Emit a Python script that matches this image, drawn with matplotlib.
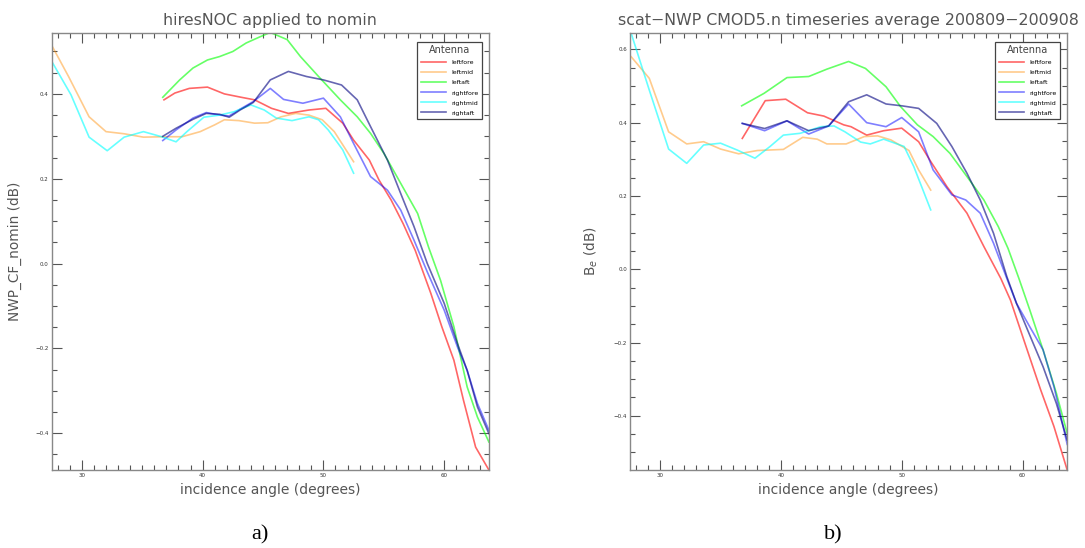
import matplotlib.pyplot as plt
from matplotlib.ticker import MultipleLocator

# antenna beams and their line colours
antennas = ['leftfore', 'leftmid', 'leftaft', 'rightfore', 'rightmid', 'rightaft']
colors = ['red', 'darkorange', 'lime', 'blue', 'cyan', 'navy']
alphas = [0.6, 0.45, 0.6, 0.5, 0.6, 0.6]

# a) hiresNOC applied to nomin: (incidence angle, NWP_CF_nomin)
a_leftfore_x = [36.8, 37.7, 38.9, 40.4, 41.8, 43.2, 44.3, 45.7, 47.1, 48.8, 50.2, 51.6, 52.5,
                53.8, 54.6, 55.6, 56.6, 57.6, 58.9, 59.8, 60.8, 61.6, 62.6, 63.7]
a_leftfore_y = [0.386, 0.402, 0.413, 0.416, 0.400, 0.392, 0.386, 0.366, 0.354, 0.362, 0.366, 0.331, 0.291,
                0.244, 0.197, 0.150, 0.094, 0.031, -0.071, -0.149, -0.228, -0.323, -0.433, -0.487]
a_leftmid_x = [27.4, 28.9, 30.6, 32.0, 33.5, 35.1, 36.8, 38.3, 39.8, 41.0, 41.8, 43.0, 44.3, 45.4,
               46.5, 47.7, 48.8, 49.9, 50.9, 52.5]
a_leftmid_y = [0.520, 0.441, 0.346, 0.311, 0.306, 0.298, 0.299, 0.299, 0.311, 0.327, 0.339, 0.337, 0.331, 0.332,
               0.346, 0.354, 0.350, 0.339, 0.311, 0.240]
a_leftaft_x = [36.7, 38.1, 39.2, 40.4, 41.4, 42.5, 43.6, 44.7, 45.6, 47.0, 48.1, 49.6, 51.4, 52.8,
               53.9, 55.0, 56.4, 57.8, 58.7, 59.7, 60.8, 61.9, 62.75, 63.7]
a_leftaft_y = [0.392, 0.433, 0.461, 0.480, 0.488, 0.500, 0.520, 0.534, 0.545, 0.528, 0.488, 0.441, 0.386, 0.346,
               0.307, 0.260, 0.189, 0.118, 0.039, -0.040, -0.149, -0.291, -0.362, -0.421]
a_rightfore_x = [36.7, 37.8, 39.2, 40.3, 41.4, 42.2, 43.1, 44.2, 45.6, 46.7, 48.3, 50.0, 51.4, 52.5,
                 53.9, 55.3, 56.4, 57.5, 58.6, 60.0, 61.1, 61.9, 62.75, 63.7]
a_rightfore_y = [0.290, 0.315, 0.343, 0.356, 0.350, 0.348, 0.364, 0.382, 0.413, 0.387, 0.378, 0.390, 0.346, 0.283,
                 0.205, 0.173, 0.126, 0.055, -0.020, -0.110, -0.197, -0.252, -0.330, -0.393]
a_rightmid_x = [27.4, 29.1, 30.6, 32.1, 33.5, 35.1, 36.6, 37.8, 38.7, 40.1, 41.4, 42.6, 44.0, 45.1,
                46.1, 47.4, 48.8, 49.6, 50.4, 51.6, 52.5]
a_rightmid_y = [0.482, 0.398, 0.298, 0.266, 0.298, 0.311, 0.299, 0.287, 0.311, 0.345, 0.350, 0.358, 0.374, 0.362,
                0.343, 0.337, 0.346, 0.339, 0.315, 0.268, 0.213]
a_rightaft_x = [36.7, 37.8, 39.2, 40.3, 41.4, 42.2, 43.1, 44.2, 45.6, 47.1, 48.6, 50.0, 51.5, 52.8,
                53.9, 55.3, 56.4, 57.5, 58.6, 60.0, 61.1, 61.9, 62.75, 63.7]
a_rightaft_y = [0.300, 0.319, 0.340, 0.354, 0.352, 0.345, 0.362, 0.380, 0.433, 0.453, 0.441, 0.433, 0.421, 0.386,
                0.323, 0.244, 0.165, 0.087, 0.000, -0.094, -0.189, -0.252, -0.338, -0.401]

# b) scat-NWP CMOD5.n timeseries average: (incidence angle, B_e)
b_leftfore_x = [36.8, 38.7, 40.4, 42.2, 43.55, 45.2, 45.8, 47.1, 48.5, 50.0, 51.4, 52.4, 53.75,
                55.4, 56.8, 58.2, 59.0, 60.2, 61.5, 62.6, 63.7]
b_leftfore_y = [0.357, 0.460, 0.464, 0.427, 0.418, 0.394, 0.389, 0.366, 0.378, 0.385, 0.348, 0.294, 0.225,
                0.153, 0.062, -0.025, -0.084, -0.202, -0.329, -0.429, -0.548]
b_leftmid_x = [27.6, 29.1, 30.7, 32.2, 33.6, 35.0, 36.5, 38.05, 40.2, 41.8, 43.0, 43.8, 45.4, 46.9,
               48.0, 49.1, 50.6, 51.4, 52.4]
b_leftmid_y = [0.580, 0.521, 0.375, 0.342, 0.348, 0.328, 0.315, 0.324, 0.327, 0.360, 0.355, 0.342, 0.342, 0.362,
               0.364, 0.353, 0.324, 0.271, 0.216]
b_leftaft_x = [36.75, 38.6, 40.5, 42.3, 43.8, 45.6, 47.0, 48.7, 49.9, 51.3, 52.6, 54.0, 55.4, 56.8,
               58.0, 58.8, 59.7, 60.6, 61.7, 62.8, 63.7]
b_leftaft_y = [0.446, 0.480, 0.523, 0.526, 0.546, 0.567, 0.548, 0.498, 0.444, 0.394, 0.362, 0.316, 0.253, 0.189,
               0.116, 0.057, -0.025, -0.111, -0.220, -0.338, -0.448]
b_rightfore_x = [36.8, 38.65, 40.5, 42.3, 43.95, 45.6, 47.1, 48.7, 50.0, 51.4, 52.6, 54.15, 55.3,
                 56.5, 57.6, 58.7, 59.5, 60.6, 61.7, 62.6, 63.7]
b_rightfore_y = [0.398, 0.378, 0.405, 0.369, 0.391, 0.451, 0.400, 0.389, 0.414, 0.375, 0.271, 0.203, 0.189,
                 0.153, 0.071, -0.025, -0.093, -0.157, -0.220, -0.320, -0.478]
b_rightmid_x = [27.6, 29.1, 30.7, 32.2, 33.6, 35.0, 36.4, 37.85, 39.1, 40.2, 41.6, 43.3, 44.4, 45.3,
                46.6, 47.4, 48.5, 50.2, 51.0, 52.4]
b_rightmid_y = [0.644, 0.489, 0.328, 0.289, 0.339, 0.344, 0.325, 0.303, 0.335, 0.366, 0.371, 0.389, 0.391, 0.375,
                0.347, 0.342, 0.355, 0.335, 0.280, 0.162]
b_rightaft_x = [36.8, 38.65, 40.5, 42.3, 43.95, 45.6, 47.1, 48.7, 50.0, 51.4, 52.9, 54.15, 55.4,
                56.5, 57.6, 58.7, 59.5, 60.6, 61.7, 62.8, 63.7]
b_rightaft_y = [0.398, 0.384, 0.405, 0.378, 0.391, 0.457, 0.476, 0.451, 0.446, 0.439, 0.398, 0.335, 0.262,
                0.189, 0.098, -0.020, -0.093, -0.180, -0.266, -0.366, -0.466]

a_series = [(a_leftfore_x, a_leftfore_y), (a_leftmid_x, a_leftmid_y), (a_leftaft_x, a_leftaft_y),
            (a_rightfore_x, a_rightfore_y), (a_rightmid_x, a_rightmid_y), (a_rightaft_x, a_rightaft_y)]
b_series = [(b_leftfore_x, b_leftfore_y), (b_leftmid_x, b_leftmid_y), (b_leftaft_x, b_leftaft_y),
            (b_rightfore_x, b_rightfore_y), (b_rightmid_x, b_rightmid_y), (b_rightaft_x, b_rightaft_y)]

grey = '#555555'

fig = plt.figure(figsize=(10.85, 5.48), dpi=100)
ax_a = fig.add_axes([0.0476, 0.1423, 0.403, 0.797])
ax_b = fig.add_axes([0.5806, 0.1423, 0.403, 0.797])


def draw_panel(ax, series, title, ylabel, ylim):
    for (x, y), name, c, al in zip(series, antennas, colors, alphas):
        ax.plot(x, y, color=c, alpha=al, lw=1.2, label=name)
    ax.set_xlim(27.5, 63.7)
    ax.set_ylim(*ylim)
    ax.xaxis.set_major_locator(MultipleLocator(10))
    ax.xaxis.set_minor_locator(MultipleLocator(1))
    ax.yaxis.set_major_locator(MultipleLocator(0.2))
    ax.yaxis.set_minor_locator(MultipleLocator(0.05))
    ax.yaxis.set_major_formatter(lambda v, pos: f'{v:.1f}'.replace('-', '\u2212'))
    ax.tick_params(which='both', direction='in', top=True, right=True,
                   color=grey, width=0.8, labelsize=4, labelcolor='#333333', pad=2)
    ax.tick_params(which='major', length=7)
    ax.tick_params(which='minor', length=3.5)
    for s in ax.spines.values():
        s.set_color('#888888')
        s.set_linewidth(1.0)
    ax.set_title(title, fontsize=11.4, color=grey, pad=6)
    ax.set_xlabel('incidence angle (degrees)', fontsize=10, color=grey, labelpad=4)
    ax.set_ylabel(ylabel, fontsize=9.8, color=grey, labelpad=10)
    leg = ax.legend(title='Antenna', loc='upper right', bbox_to_anchor=(0.984, 0.981),
                    borderaxespad=0, fontsize=4.5, title_fontsize=7, fancybox=False,
                    framealpha=1, edgecolor='#444444', handlelength=4, handletextpad=0.8,
                    labelspacing=0.75, borderpad=0.6)
    leg.get_title().set_color('#444444')
    leg.get_frame().set_linewidth(0.9)


draw_panel(ax_a, a_series, 'hiresNOC applied to nomin', 'NWP_CF_nomin (dB)', (-0.487, 0.543))
draw_panel(ax_b, b_series, 'scat\u2212NWP CMOD5.n timeseries average 200809\u2212200908',
           r'B$_e$ (dB)', (-0.548, 0.644))

# panel captions
fig.text(260 / 1085, 1 - 535 / 548, 'a)', fontsize=16, family='Liberation Serif',
         ha='center', va='center')
fig.text(833 / 1085, 1 - 535 / 548, 'b)', fontsize=16, family='Liberation Serif',
         ha='center', va='center')

fig.savefig('out.png', dpi=100)
